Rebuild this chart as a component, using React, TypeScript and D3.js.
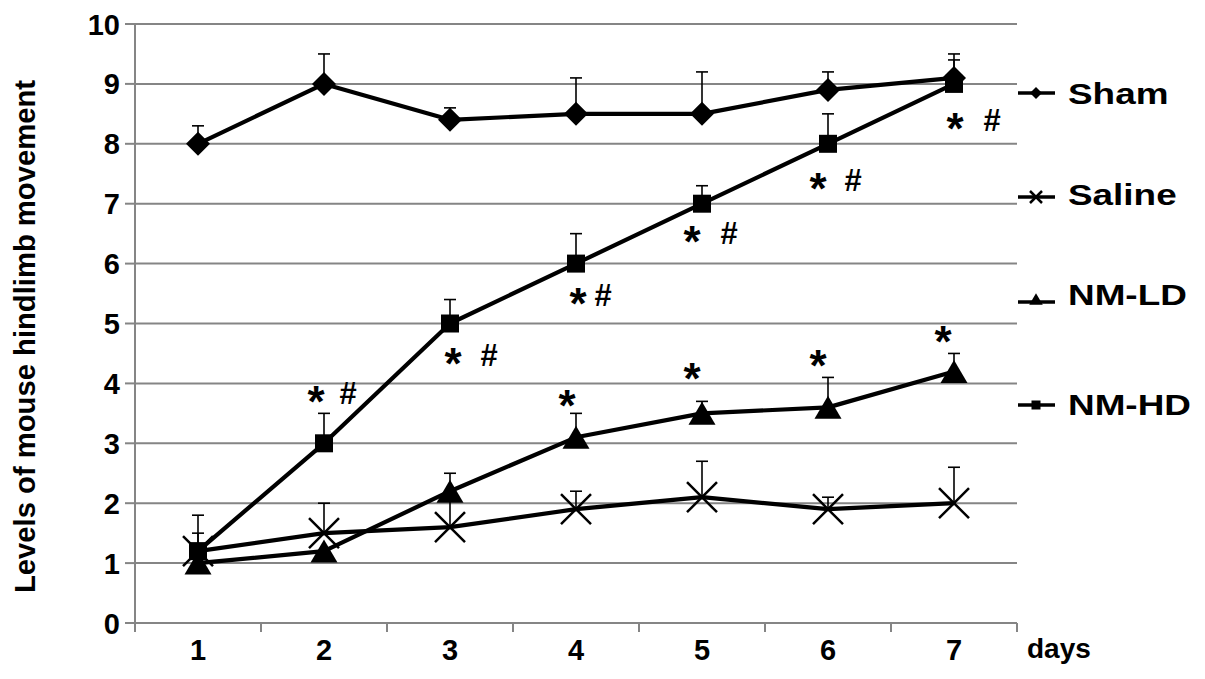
import React from 'react';
import * as d3 from 'd3';

// chart values
const days = ['1', '2', '3', '4', '5', '6', '7'];
const yTicks = [0, 1, 2, 3, 4, 5, 6, 7, 8, 9, 10];

const sham = [8.0, 9.0, 8.4, 8.5, 8.5, 8.9, 9.1];
const shamSD = [0.3, 0.5, 0.2, 0.6, 0.7, 0.3, 0.4];
const saline = [1.2, 1.5, 1.6, 1.9, 2.1, 1.9, 2.0];
const salineSD = [0.3, 0.5, 0.5, 0.3, 0.6, 0.2, 0.6];
const nmLD = [1.0, 1.2, 2.2, 3.1, 3.5, 3.6, 4.2];
const nmLDSD = [0, 0, 0.3, 0.4, 0.2, 0.5, 0.3];
const nmHD = [1.2, 3.0, 5.0, 6.0, 7.0, 8.0, 9.0];
const nmHDSD = [0.6, 0.5, 0.4, 0.5, 0.3, 0.5, 0.4];

// significance marks (level = vertical centre, in data units)
const hdSigDays = ['2', '3', '4', '5', '6', '7'];
const hdSigLevel = [3.84, 4.47, 5.48, 6.51, 7.4, 8.4];
const ldSigDays = ['4', '5', '6', '7'];
const ldSigLevel = [3.77, 4.22, 4.44, 4.84];

// pixel nudges for the * and # glyphs
const hdStarDx = [-8, 3, 2, -10, -10, 1];
const hdHashDx = [24, 39, 27, 27, 25, 38];
const ldStarDx = [-9, -10, -10, -11];

const W = 1205;
const H = 679;
const left = 135;
const right = 1017;
const top = 24;
const bottom = 623;
const grid = '#858585';
const font = '"Liberation Sans", Arial, sans-serif';

type Shape = 'diamond' | 'cross' | 'triangle' | 'square';

function Marker({ shape, x, y, k = 1 }: { shape: Shape; x: number; y: number; k?: number }) {
  if (shape === 'diamond') {
    const h = 12 * k;
    return <path d={`M${x},${y - h}L${x + h},${y}L${x},${y + h}L${x - h},${y}Z`} fill="#000" />;
  }
  if (shape === 'square') {
    const h = 9 * k;
    return <rect x={x - h} y={y - h} width={2 * h} height={2 * h} fill="#000" />;
  }
  if (shape === 'triangle') {
    const w = 13.5 * k;
    const h = 11.5 * k;
    return <path d={`M${x},${y - h}L${x + w},${y + h}L${x - w},${y + h}Z`} fill="#000" />;
  }
  const h = 15 * k;
  return (
    <path
      d={`M${x - h},${y - h}L${x + h},${y + h}M${x - h},${y + h}L${x + h},${y - h}`}
      stroke="#000"
      strokeWidth={2.5}
      fill="none"
    />
  );
}

const series: { name: string; values: number[]; sd: number[]; shape: Shape }[] = [
  { name: 'Sham', values: sham, sd: shamSD, shape: 'diamond' },
  { name: 'Saline', values: saline, sd: salineSD, shape: 'cross' },
  { name: 'NM-LD', values: nmLD, sd: nmLDSD, shape: 'triangle' },
  { name: 'NM-HD', values: nmHD, sd: nmHDSD, shape: 'square' },
];

// legend rows: line y, text y
const legendY = [93, 197, 302, 405];
const legendTextY = [93, 194, 294, 404];

export default function App() {
  const x = d3.scaleBand<string>().domain(days).range([left, right]);
  const y = d3.scaleLinear().domain([0, 10]).range([bottom, top]);
  const cx = (d: string) => (x(d) as number) + x.bandwidth() / 2;

  const line = d3
    .line<number>()
    .x((_, i) => cx(days[i]))
    .y((v) => y(v));

  const boundaries = days.map((d) => x(d) as number).concat([right]);

  return (
    <svg
      width={W}
      height={H}
      style={{ position: 'fixed', left: 0, top: 0, background: '#fff' }}
      fontFamily={font}
      fontWeight="bold"
    >
      {/* gridlines */}
      {yTicks.slice(1).map((t) => (
        <line key={t} x1={left} x2={right} y1={y(t)} y2={y(t)} stroke={grid} strokeWidth={2} />
      ))}
      {/* axes */}
      <line x1={left} x2={left} y1={top} y2={bottom} stroke={grid} strokeWidth={2} />
      <line x1={left} x2={right} y1={bottom} y2={bottom} stroke={grid} strokeWidth={2} />
      {yTicks.map((t) => (
        <g key={t}>
          <line x1={left - 10} x2={left} y1={y(t)} y2={y(t)} stroke={grid} strokeWidth={2} />
          <text x={120} y={y(t) + 10.5} textAnchor="end" fontSize={29}>
            {t}
          </text>
        </g>
      ))}
      {boundaries.map((b, i) => (
        <line key={i} x1={b} x2={b} y1={bottom} y2={bottom + 9} stroke={grid} strokeWidth={2} />
      ))}
      {days.map((d) => (
        <text key={d} x={cx(d)} y={660} textAnchor="middle" fontSize={29}>
          {d}
        </text>
      ))}
      <text x={1027} y={658} fontSize={28}>
        days
      </text>
      <text
        transform={`translate(35,${(80 + 593) / 2}) rotate(-90)`}
        textAnchor="middle"
        fontSize={29.5}
        textLength={513}
        lengthAdjust="spacingAndGlyphs"
      >
        Levels of mouse hindlimb movement
      </text>

      {/* error bars (upper only) */}
      {series.map((s) =>
        s.values.map((v, i) =>
          s.sd[i] > 0 ? (
            <g key={s.name + i} stroke="#000" strokeWidth={1.6}>
              <line x1={cx(days[i])} x2={cx(days[i])} y1={y(v)} y2={y(v + s.sd[i])} />
              <line x1={cx(days[i]) - 6} x2={cx(days[i]) + 6} y1={y(v + s.sd[i])} y2={y(v + s.sd[i])} />
            </g>
          ) : null
        )
      )}

      {/* lines */}
      {series.map((s) => (
        <path key={s.name} d={line(s.values) || ''} fill="none" stroke="#000" strokeWidth={4.2} strokeLinejoin="round" />
      ))}
      {/* markers */}
      {series.map((s) =>
        s.values.map((v, i) => <Marker key={s.name + 'm' + i} shape={s.shape} x={cx(days[i])} y={y(v)} />)
      )}

      {/* significance marks */}
      {hdSigDays.map((d, i) => (
        <g key={'hd' + d}>
          <text x={cx(d) + hdStarDx[i]} y={y(hdSigLevel[i]) + 24} textAnchor="middle" fontSize={44}>
            *
          </text>
          <text x={cx(d) + hdHashDx[i]} y={y(hdSigLevel[i]) + 11} textAnchor="middle" fontSize={31}>
            #
          </text>
        </g>
      ))}
      {ldSigDays.map((d, i) => (
        <text key={'ld' + d} x={cx(d) + ldStarDx[i]} y={y(ldSigLevel[i]) + 24} textAnchor="middle" fontSize={44}>
          *
        </text>
      ))}

      {/* legend */}
      {series.map((s, i) => (
        <g key={'lg' + s.name}>
          <line x1={1018} x2={1055} y1={legendY[i]} y2={legendY[i]} stroke="#000" strokeWidth={3.5} />
          <Marker
            shape={s.shape}
            x={1036}
            y={s.shape === 'triangle' ? legendY[i] - 3 : legendY[i]}
            k={s.shape === 'cross' ? 0.4 : 0.5}
          />
          <text
            transform={`translate(1068,${legendTextY[i] + 10.5}) scale(1.23,1)`}
            fontSize={30}
          >
            {s.name}
          </text>
        </g>
      ))}
    </svg>
  );
}
